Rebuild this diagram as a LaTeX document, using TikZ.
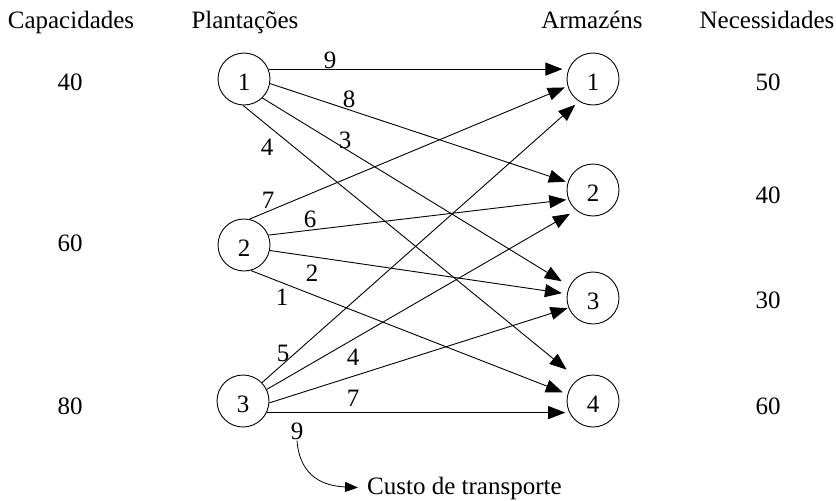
\documentclass[tikz,border=0pt]{standalone}
\usepackage{fontspec}
\setmainfont{Liberation Serif}
\usetikzlibrary{arrows.meta}
\begin{document}
\begin{tikzpicture}[x=1pt,y=-1pt,
  every node/.style={font=\fontsize{25}{30}\selectfont},
  circ/.style={draw, circle, minimum size=52pt, inner sep=0pt, text height=22pt, text depth=0pt, line width=0.9pt},
  txt/.style={anchor=base, inner sep=0pt},
  lbl/.style={inner sep=1pt},
  flow/.style={line width=0.9pt, -{Triangle[length=17pt,width=13pt]}},
  note/.style={line width=0.8pt, -{Triangle[length=13pt,width=10pt]}},
]
\useasboundingbox (0,0) rectangle (836,501);
% headers
\node[txt] (hcap) at (71,28) {Capacidades};
\node[txt] (hpla) at (245,28) {Plantações};
\node[txt] (harm) at (592,28) {Armazéns};
\node[txt] (hnec) at (767,28) {Necessidades};
% capacities / needs
\node[txt] (c1) at (70,90) {40};
\node[txt] (c2) at (70,251) {60};
\node[txt] (c3) at (70,414) {80};
\node[txt] (n1) at (768,90) {50};
\node[txt] (n2) at (768,203) {40};
\node[txt] (n3) at (768,308) {30};
\node[txt] (n4) at (768,414) {60};
% nodes
\node[circ] (P1) at (244,79) {1};
\node[circ] (P2) at (244,245) {2};
\node[circ] (P3) at (243,401) {3};
\node[circ] (A1) at (593,79) {1};
\node[circ] (A2) at (593,190) {2};
\node[circ] (A3) at (593,298) {3};
\node[circ] (A4) at (593,401) {4};
% arcs
\draw[flow, shorten >=6pt] (P1.22) -- (A1.158);
\draw[flow, shorten >=2pt] (P1.-10) -- (A2.163);
\draw[flow, shorten >=9pt] (P1.-46) -- (A3.153);
\draw[flow, shorten >=15pt] (P1.-92) -- (A4.124);
\draw[flow, shorten >=3pt] (P2.78) -- (A1.196);
\draw[flow, shorten >=2pt] (P2.22) -- (A2.201);
\draw[flow, shorten >=5pt] (P2.-12) -- (A3.171);
\draw[flow, shorten >=5pt] (P2.-75) -- (A4.165);
\draw[flow, shorten >=5pt] (P3.44) -- (A1.238);
\draw[flow, shorten >=7pt] (P3.26) -- (A2.230);
\draw[flow, shorten >=1pt] (P3.-4) -- (A3.202);
\draw[flow, shorten >=4pt] (P3.-26) -- (A4.206);
% costs
\node[lbl] (l11) at (330,60) {9};
\node[lbl] (l12) at (349,99) {8};
\node[lbl] (l13) at (345,140) {3};
\node[lbl] (l14) at (267,147) {4};
\node[lbl] (l21) at (268,200) {7};
\node[lbl] (l22) at (310,219) {6};
\node[lbl] (l23) at (312,273) {2};
\node[lbl] (l24) at (282,297) {1};
\node[lbl] (l31) at (283,353) {5};
\node[lbl] (l32) at (353,357) {4};
\node[lbl] (l33) at (353,398) {7};
% legend
\node[lbl] (c9) at (297,431) {9};
\node[txt, anchor=base west] (custo) at (367,494) {Custo de transporte};
\draw[note, shorten >=9pt] (c9.south) .. controls (300,478) and (325,486) .. (custo.west);
\end{tikzpicture}
\end{document}
